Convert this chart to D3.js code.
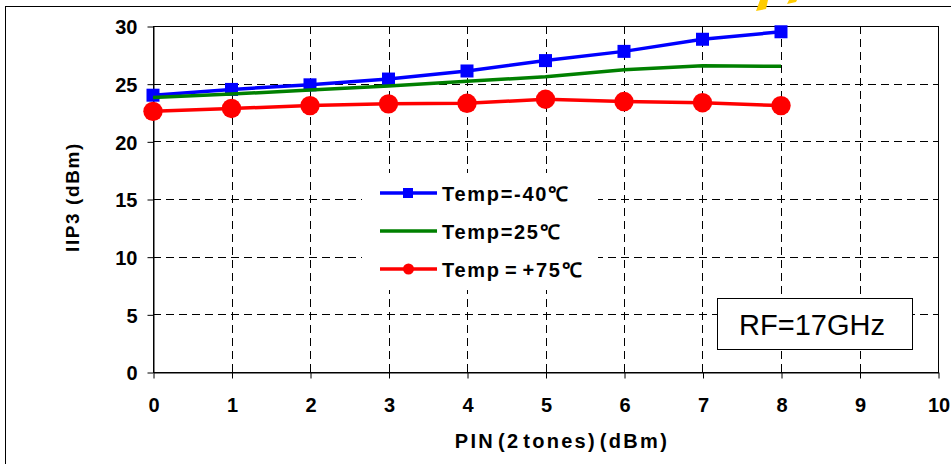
<!DOCTYPE html>
<html>
<head>
<meta charset="utf-8">
<script src="https://cdn.jsdelivr.net/npm/d3@7"></script>
<style>
  html, body { margin: 0; padding: 0; background: #fff; }
  svg { display: block; }
  text { font-family: Arial, "Liberation Sans", sans-serif; }
</style>
</head>
<body>
<svg id="chart" width="951" height="464"></svg>
<script>
// Input power (dBm) for the two-tone measurement
const pin = [0, 1, 2, 3, 4, 5, 6, 7, 8];

// IIP3 (dBm) at each temperature
const iip3Cold = [24.0, 24.5, 24.9, 25.4, 26.1, 27.0, 27.8, 28.85, 29.5];
const iip3Room = [23.8, 24.1, 24.45, 24.8, 25.2, 25.6, 26.2, 26.55, 26.5];
const iip3Hot  = [22.6, 22.85, 23.1, 23.25, 23.3, 23.65, 23.45, 23.35, 23.1];

const seriesNames = ["Temp=-40\u2103", "Temp=25\u2103", "Temp = +75\u2103"];

const xTicks = [0, 1, 2, 3, 4, 5, 6, 7, 8, 9, 10];
const yTicks = [0, 5, 10, 15, 20, 25, 30];

const series = [
  { name: seriesNames[0], values: iip3Cold, color: "#0000ff", marker: "square" },
  { name: seriesNames[1], values: iip3Room, color: "#008000", marker: "none" },
  { name: seriesNames[2], values: iip3Hot,  color: "#ff0000", marker: "circle" }
];

const FONT = "Arial, 'Liberation Sans', sans-serif";
const svg = d3.select("#chart");
const plot = { left: 153, top: 26, right: 938, bottom: 372 };

const x = d3.scaleLinear().domain([0, 10]).range([plot.left, plot.right]);
const y = d3.scaleLinear().domain([0, 30]).range([plot.bottom, plot.top]);

// outer frame
svg.append("rect")
  .attr("x", 5.5).attr("y", 6.5).attr("width", 960).attr("height", 480)
  .attr("fill", "none").attr("stroke", "#000").attr("stroke-width", 1);

// small decorative shapes above the frame edge
svg.append("polygon").attr("points", "756,11 760,0 768,0 766,9").attr("fill", "#ffcc00");
svg.append("polygon").attr("points", "787,4 789,0 797,0 796,2").attr("fill", "#ffcc00");

// dashed grid
const grid = svg.append("g").attr("stroke", "#000").attr("stroke-width", 1)
  .attr("stroke-dasharray", "8,5");
grid.selectAll("line.v").data(xTicks.filter(d => d > 0 && d < 10)).join("line")
  .attr("x1", d => Math.round(x(d)) + 0.5).attr("x2", d => Math.round(x(d)) + 0.5)
  .attr("y1", plot.top).attr("y2", plot.bottom);
grid.selectAll("line.h").data(yTicks.filter(d => d > 0 && d < 30)).join("line")
  .attr("y1", d => Math.round(y(d)) + 0.5).attr("y2", d => Math.round(y(d)) + 0.5)
  .attr("x1", plot.left).attr("x2", plot.right);

// plot box
svg.append("rect")
  .attr("x", plot.left + 0.5).attr("y", plot.top + 0.5)
  .attr("width", plot.right - plot.left).attr("height", plot.bottom - plot.top)
  .attr("fill", "none").attr("stroke", "#000").attr("stroke-width", 1);

// axes
const xAxis = d3.axisBottom(x).tickValues(xTicks).tickSize(6).tickSizeOuter(0).tickPadding(19);
const yAxis = d3.axisLeft(y).tickValues(yTicks).tickSize(6).tickSizeOuter(0).tickPadding(10);

const gx = svg.append("g").attr("transform", `translate(0.5,${plot.bottom + 0.5})`).call(xAxis);
const gy = svg.append("g").attr("transform", `translate(${plot.left + 0.5},0.5)`).call(yAxis);
[gx, gy].forEach(g => {
  g.select(".domain").attr("stroke", "#000");
  g.selectAll(".tick line").attr("stroke", "#000");
  g.selectAll(".tick text")
    .attr("fill", "#000")
    .style("font-family", FONT)
    .style("font-size", "20px").style("font-weight", "bold");
});
gy.selectAll(".tick text").attr("dy", "0.36em");

// axis titles
svg.append("text")
  .attr("x", 562).attr("y", 448)
  .attr("text-anchor", "middle")
  .style("font-size", "20px").style("font-weight", "bold")
  .style("letter-spacing", "2.3px").style("word-spacing", "-5px")
  .text("PIN (2 tones) (dBm)");
svg.append("text")
  .attr("transform", "translate(79,197) rotate(-90)")
  .attr("text-anchor", "middle")
  .style("font-size", "19px").style("font-weight", "bold")
  .style("letter-spacing", "1.6px")
  .text("IIP3 (dBm)");

// series lines and markers
const line = d3.line().x((d, i) => x(pin[i])).y(d => y(d));
series.forEach(s => {
  svg.append("path").datum(s.values)
    .attr("d", line).attr("fill", "none")
    .attr("stroke", s.color).attr("stroke-width", 3.5)
    .attr("stroke-linejoin", "round");
  if (s.marker === "square") {
    svg.selectAll(null).data(s.values).join("rect")
      .attr("x", (d, i) => x(pin[i]) - 6.5).attr("y", d => y(d) - 6.5)
      .attr("width", 13).attr("height", 13).attr("fill", s.color);
  } else if (s.marker === "circle") {
    svg.selectAll(null).data(s.values).join("circle")
      .attr("cx", (d, i) => x(pin[i])).attr("cy", d => y(d))
      .attr("r", 9.7).attr("fill", s.color);
  }
});

// legend with a white backing over the grid
const legend = svg.append("g");
legend.append("rect")
  .attr("x", 362).attr("y", 173).attr("width", 236).attr("height", 117)
  .attr("fill", "#fff");
series.forEach((s, i) => {
  const ly = 193 + i * 38;
  const g = legend.append("g").attr("transform", `translate(380,${ly})`);
  g.append("line").attr("x1", 0).attr("x2", 57).attr("y1", 0).attr("y2", 0)
    .attr("stroke", s.color).attr("stroke-width", 3.5);
  if (s.marker === "square") {
    g.append("rect").attr("x", 23).attr("y", -5).attr("width", 10).attr("height", 10).attr("fill", s.color);
  } else if (s.marker === "circle") {
    g.append("circle").attr("cx", 28.5).attr("cy", 0).attr("r", 5.5).attr("fill", s.color);
  }
  g.append("text").attr("x", 62).attr("y", 7.5)
    .style("font-size", "20px").style("font-weight", "bold")
    .style("letter-spacing", "1.7px").style("word-spacing", "-3px")
    .text(s.name);
});

// frequency annotation
svg.append("rect")
  .attr("x", 717.5).attr("y", 298.5).attr("width", 195).attr("height", 51)
  .attr("fill", "#fff").attr("stroke", "#000").attr("stroke-width", 1);
svg.append("text")
  .attr("x", 812).attr("y", 335)
  .attr("text-anchor", "middle")
  .style("font-size", "29px")
  .text("RF=17GHz");
</script>
</body>
</html>
